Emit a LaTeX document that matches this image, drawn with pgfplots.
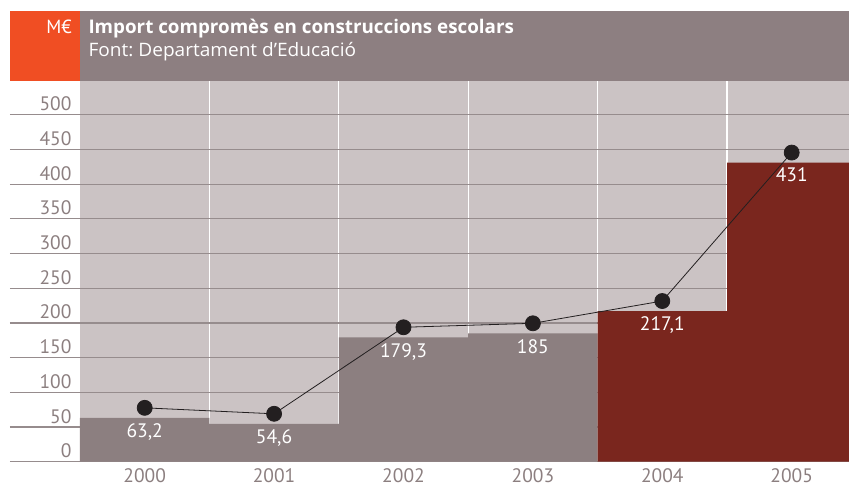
\documentclass[border=0pt]{standalone}
\usepackage{fontspec}
\setmainfont{PT Sans}
\newfontfamily\headfont{Open Sans}
\newfontfamily\subfont[FakeStretch=1.03]{Open Sans}
\usepackage{pgfplots}
\pgfplotsset{compat=1.18}
\definecolor{orangeM}{RGB}{240,78,35}
\definecolor{bandgray}{RGB}{141,127,129}
\definecolor{bgcol}{RGB}{203,195,196}
\definecolor{bargray}{RGB}{140,127,128}
\definecolor{barred}{RGB}{122,38,30}
\definecolor{gridcol}{RGB}{150,140,141}
\definecolor{dotcol}{RGB}{35,31,32}
\begin{document}
\begin{tikzpicture}[x=1pt,y=1pt]
\useasboundingbox (0,0) rectangle (849,485);
\clip (0,0) rectangle (849,485);
% header
\fill[orangeM] (10,404.3) rectangle (80,474);
\fill[bandgray] (80,404.3) rectangle (849,474);
\node[anchor=base east, inner sep=0, text=white, font=\fontsize{19}{22}\selectfont] at (72,451.7) {M€};
\node[anchor=base west, inner sep=0, text=white, font=\headfont\fontsize{18.8}{22}\selectfont\bfseries] at (88.3,451) {Import compromès en construccions escolars};
\node[anchor=base west, inner sep=0, text=white, font=\subfont\fontsize{18.5}{22}\selectfont] at (88.3,428.3) {Font:\hspace{-1.5pt} Departament d’Educació};
\begin{axis}[
    at={(80pt,23.3pt)}, anchor=south west,
    scale only axis, width=776.4pt, height=381pt,
    xmin=-0.5, xmax=5.5, ymin=0, ymax=549,
    clip=false,
    axis line style={draw=none},
    axis background/.style={fill=bgcol},
    xtick={0,...,5}, xticklabels={2000,2001,2002,2003,2004,2005},
    ytick={0,50,...,500},
    minor xtick={0.5,1.5,2.5,3.5,4.5},
    major tick length=0, minor tick length=0,
    ymajorgrids, xminorgrids,
    major grid style={gridcol, line width=1.2pt},
    minor grid style={white, line width=1.3pt},
    /pgf/number format/assume math mode=true,
    /pgf/number format/use comma,
    ticklabel style={font=\fontsize{19.5}{22}\selectfont, text=bargray, inner sep=0},
    yticklabel style={anchor=base east, xshift=-8.3pt, yshift=4pt},
    xticklabel style={anchor=north, yshift=-6.5pt},
]
% left extension of the grid lines
\pgfplotsinvokeforeach{0,50,...,500}{
  \draw[gridcol, line width=1.2pt] ([xshift=-70pt]axis cs:-0.5,#1) -- (axis cs:-0.5,#1);
}
\addplot[ybar, bar width=1, bar shift=0pt, fill=bargray, draw=none,
    nodes near coords,
    every node near coord/.append style={anchor=north, inner sep=0, yshift=-6pt, text=white, font=\fontsize{19.5}{22}\selectfont}]
coordinates {(0,63.2) (1,54.6) (2,179.3) (3,185)};
\addplot[ybar, bar width=1, bar shift=0pt, fill=barred, draw=none,
    nodes near coords,
    every node near coord/.append style={anchor=north, inner sep=0, yshift=-5pt, text=white, font=\fontsize{19.5}{22}\selectfont}]
coordinates {(4,217.1) (5,431)};
\addplot[dotcol, line width=0.8pt, mark=*, mark size=7.5pt, mark options={fill=dotcol, draw=none}, yshift=10pt]
coordinates {(0,63.2) (1,54.6) (2,179.3) (3,185) (4,217.1) (5,431)};
\end{axis}
\end{tikzpicture}
\end{document}
